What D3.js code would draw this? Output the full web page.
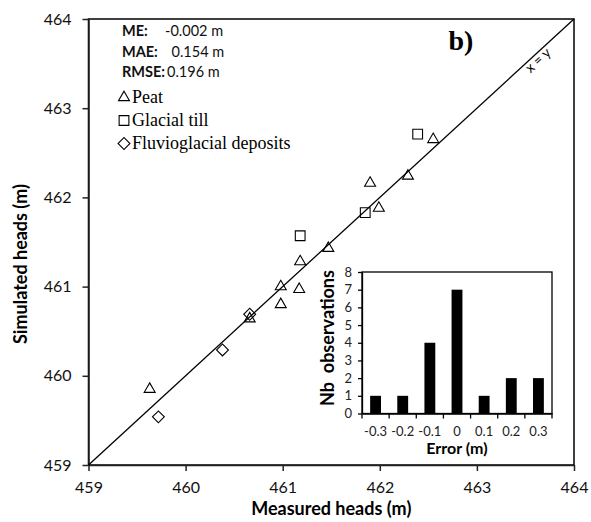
<!DOCTYPE html>
<html>
<head>
<meta charset="utf-8">
<script src="https://cdn.jsdelivr.net/npm/d3@7"></script>
<style>
  body { margin: 0; background: #fff; }
  svg { display: block; }
  .sans { font-family: Lato, "Open Sans", sans-serif; }
  .serif { font-family: "Liberation Serif", "Times New Roman", serif; }
</style>
</head>
<body>
<div id="chart"></div>
<script>
// measured vs simulated heads (m)
const peatMeasured = [459.63, 460.66, 460.98, 460.98, 461.17, 461.18, 461.47, 461.90, 461.99, 462.29, 462.55];
const peatSimulated = [459.85, 460.64, 460.80, 461.00, 460.97, 461.28, 461.43, 462.16, 461.88, 462.24, 462.65];
const tillMeasured = [461.18, 461.85, 462.39];
const tillSimulated = [461.57, 461.83, 462.71];
const fluvioMeasured = [459.72, 460.38, 460.66];
const fluvioSimulated = [459.54, 460.29, 460.69];
const headTicks = [459, 460, 461, 462, 463, 464];

// error histogram
const errorBins = ['-0.3', '-0.2', '-0.1', '0', '0.1', '0.2', '0.3'];
const errorCounts = [1, 1, 4, 7, 1, 2, 2];
const countTicks = [0, 1, 2, 3, 4, 5, 6, 7, 8];

const statLabels = ['ME:', 'MAE:', 'RMSE:'];
const statValues = ['-0.002 m', '0.154 m', '0.196 m'];
const legendLabels = ['Peat', 'Glacial till', 'Fluvioglacial deposits'];

const width = 591, height = 522;
const margin = { left: 88.5, right: 17, top: 19, bottom: 57 };

const svg = d3.select('#chart').append('svg')
  .attr('width', width)
  .attr('height', height);

const x = d3.scaleLinear().domain([459, 464]).range([margin.left, width - margin.right]);
const y = d3.scaleLinear().domain([459, 464]).range([height - margin.bottom, margin.top]);

// frame
svg.append('rect')
  .attr('x', x(459)).attr('y', y(464))
  .attr('width', x(464) - x(459)).attr('height', y(459) - y(464))
  .attr('fill', 'none').attr('stroke', '#000').attr('stroke-width', 1.5);

const xAxis = d3.axisBottom(x).tickValues(headTicks).tickFormat(d3.format('d'))
  .tickSize(6).tickSizeOuter(0).tickPadding(11);
const yAxis = d3.axisLeft(y).tickValues(headTicks).tickFormat(d3.format('d'))
  .tickSize(6).tickSizeOuter(0).tickPadding(11);

const xele = svg.append('g')
  .attr('transform', 'translate(0,' + y(459) + ')')
  .call(xAxis);
const yele = svg.append('g')
  .attr('transform', 'translate(' + x(459) + ',0)')
  .call(yAxis);

[xele, yele].forEach((g) => {
  g.select('.domain').attr('stroke', '#222').attr('stroke-width', 1.5);
  g.selectAll('.tick line').attr('stroke', '#222').attr('stroke-width', 1.5);
  g.selectAll('.tick text').attr('font-size', 16).attr('fill', '#111').attr('font-family', 'Lato, sans-serif');
});

svg.append('text')
  .attr('class', 'sans')
  .attr('x', x(461.5)).attr('y', 515)
  .attr('text-anchor', 'middle')
  .attr('font-size', 18).attr('font-weight', 'bold')
  .text('Measured heads (m)');

svg.append('text')
  .attr('class', 'sans')
  .attr('transform', 'translate(27,264) rotate(-90)')
  .attr('text-anchor', 'middle')
  .attr('font-size', 18).attr('font-weight', 'bold')
  .text('Simulated heads (m)');

// 1:1 line
svg.append('line')
  .attr('x1', x(459)).attr('y1', y(459))
  .attr('x2', x(464)).attr('y2', y(464))
  .attr('stroke', '#000').attr('stroke-width', 1.3);

const angle = Math.atan2(y(464) - y(459), x(464) - x(459)) * 180 / Math.PI;
svg.append('text')
  .attr('class', 'sans')
  .attr('transform', 'translate(' + (x(463.6) + 6) + ',' + (y(463.6) + 9) + ') rotate(' + angle + ')')
  .attr('text-anchor', 'middle')
  .attr('font-size', 14)
  .text('x = y');

svg.append('text')
  .attr('class', 'serif')
  .attr('x', 461).attr('y', 50)
  .attr('text-anchor', 'middle')
  .attr('font-size', 28).attr('font-weight', 'bold')
  .text('b)');

// markers
const triangle = d3.symbol().type(d3.symbolTriangle).size(52);
const square = d3.symbol().type(d3.symbolSquare).size(95);
const diamond = d3.symbol().type(d3.symbolSquare).size(70);

function drawPoints(xs, ys, gen, rot) {
  svg.append('g').selectAll('path')
    .data(xs.map((d, i) => ({ m: d, s: ys[i] })))
    .enter()
    .append('path')
    .attr('d', gen())
    .attr('transform', (d) => 'translate(' + x(d.m) + ',' + y(d.s) + ') rotate(' + rot + ')')
    .attr('fill', 'none')
    .attr('stroke', '#000')
    .attr('stroke-width', 1.1);
}
drawPoints(peatMeasured, peatSimulated, triangle, 0);
drawPoints(tillMeasured, tillSimulated, square, 0);
drawPoints(fluvioMeasured, fluvioSimulated, diamond, 45);

// stats
const stats = svg.append('g').attr('class', 'sans').attr('font-size', 14.5).attr('fill', '#111');
const statX = [165, 171.5, 167];
statLabels.forEach((lab, i) => {
  stats.append('text').attr('x', 122).attr('y', 36 + i * 20.5).attr('font-weight', 'bold').text(lab);
  stats.append('text').attr('x', statX[i]).attr('y', 36 + i * 20.5).text(statValues[i]);
});

// legend
const legendSyms = [[triangle, 0], [square, 0], [diamond, 45]];
legendLabels.forEach((lab, i) => {
  const ly = 97.5 + i * 23;
  svg.append('path')
    .attr('d', legendSyms[i][0]())
    .attr('transform', 'translate(124,' + ly + ') rotate(' + legendSyms[i][1] + ')')
    .attr('fill', 'none').attr('stroke', '#000').attr('stroke-width', 1.1);
  svg.append('text')
    .attr('class', 'serif')
    .attr('x', 132).attr('y', ly + 5.5)
    .attr('font-size', 18)
    .text(lab);
});

// inset histogram
const ix = d3.scaleBand().domain(errorBins).range([362, 552]).paddingInner(0.6).paddingOuter(0.3);
const iy = d3.scaleLinear().domain([0, 8]).range([413.5, 272]);

svg.append('rect')
  .attr('x', 362).attr('y', iy(8))
  .attr('width', 552 - 362).attr('height', iy(0) - iy(8))
  .attr('fill', '#fff').attr('stroke', '#000').attr('stroke-width', 1.3);

svg.append('g').selectAll('rect')
  .data(errorCounts)
  .enter()
  .append('rect')
  .attr('x', (d, i) => ix(errorBins[i]))
  .attr('width', ix.bandwidth())
  .attr('y', (d) => iy(d))
  .attr('height', (d) => iy(0) - iy(d))
  .attr('fill', '#000');

const iyAxis = d3.axisLeft(iy).tickValues(countTicks).tickSize(4).tickSizeOuter(0).tickPadding(6);
const iyele = svg.append('g').attr('transform', 'translate(362,0)').call(iyAxis);

const ixAxis = d3.axisBottom(ix).tickSize(0).tickPadding(13);
const ixele = svg.append('g').attr('transform', 'translate(0,' + iy(0) + ')').call(ixAxis);

// ticks between the bins
const step = (552 - 362) / errorBins.length;
ixele.selectAll('.bin-tick')
  .data(d3.range(errorBins.length + 1))
  .enter()
  .append('line')
  .attr('x1', (d) => 362 + d * step).attr('x2', (d) => 362 + d * step)
  .attr('y1', 0).attr('y2', 5)
  .attr('stroke', '#000').attr('stroke-width', 1.3);

[iyele, ixele].forEach((g) => {
  g.select('.domain').attr('stroke', '#000').attr('stroke-width', 1.3);
  g.selectAll('.tick line').attr('stroke', '#000').attr('stroke-width', 1.3);
  g.selectAll('.tick text').attr('font-size', 13).attr('fill', '#222').attr('font-family', 'Lato, sans-serif');
});

svg.append('text')
  .attr('class', 'sans')
  .attr('x', 457).attr('y', 454)
  .attr('text-anchor', 'middle')
  .attr('font-size', 16).attr('font-weight', 'bold')
  .text('Error (m)');

svg.append('text')
  .attr('class', 'sans')
  .attr('transform', 'translate(334,338) rotate(-90)')
  .attr('text-anchor', 'middle')
  .attr('font-size', 18).attr('font-weight', 'bold')
  .text('Nb\u00a0\u00a0observations');
</script>
</body>
</html>
